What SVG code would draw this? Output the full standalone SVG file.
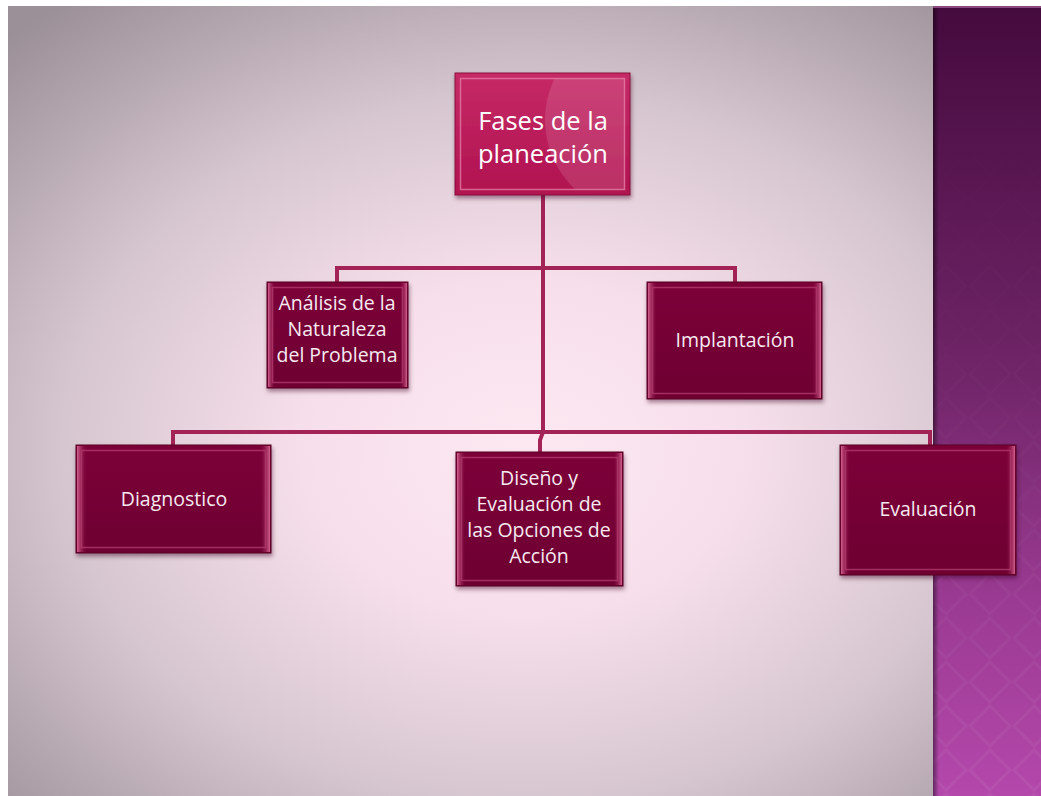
<svg xmlns="http://www.w3.org/2000/svg" width="1041" height="796" viewBox="0 0 1041 796">
<defs>
<radialGradient id="bg" cx="0.5" cy="0.56" r="0.72">
<stop offset="0" stop-color="#fde8f2"/>
<stop offset="0.3" stop-color="#f6dfea"/>
<stop offset="0.62" stop-color="#d6c6cf"/>
<stop offset="1" stop-color="#9b8f98"/>
</radialGradient>
<linearGradient id="band" x1="0" y1="0" x2="0" y2="1">
<stop offset="0" stop-color="#450a3e"/>
<stop offset="0.45" stop-color="#6e2466"/>
<stop offset="0.75" stop-color="#9a3a92"/>
<stop offset="1" stop-color="#b448ab"/>
</linearGradient>
<linearGradient id="bandEdge" x1="0" y1="0" x2="1" y2="0">
<stop offset="0" stop-color="#000" stop-opacity="0.45"/>
<stop offset="1" stop-color="#000" stop-opacity="0"/>
</linearGradient>
<linearGradient id="patFade" x1="0" y1="0" x2="0" y2="1">
<stop offset="0" stop-color="#fff" stop-opacity="0"/>
<stop offset="0.5" stop-color="#fff" stop-opacity="0.3"/>
<stop offset="1" stop-color="#fff" stop-opacity="1"/>
</linearGradient>
<mask id="patMask"><rect x="933" y="6" width="108" height="790" fill="url(#patFade)"/></mask>
<pattern id="diam" width="44" height="44" patternUnits="userSpaceOnUse">
<path d="M22 2 L42 22 L22 42 L2 22 Z" fill="none" stroke="#ffffff" stroke-opacity="0.05" stroke-width="3"/>
</pattern>
<linearGradient id="boxFill" x1="0" y1="0" x2="0" y2="1">
<stop offset="0" stop-color="#7c0538"/>
<stop offset="1" stop-color="#6e0032"/>
</linearGradient>
<linearGradient id="bevelH" x1="0" y1="0" x2="1" y2="0">
<stop offset="0" stop-color="#d2608e"/>
<stop offset="0.05" stop-color="#8a1546" stop-opacity="0"/>
<stop offset="0.95" stop-color="#8a1546" stop-opacity="0"/>
<stop offset="1" stop-color="#d2608e"/>
</linearGradient>
<linearGradient id="topFill" x1="0" y1="0" x2="0" y2="1">
<stop offset="0" stop-color="#c62a66"/>
<stop offset="1" stop-color="#b0124f"/>
</linearGradient>
<clipPath id="topClip"><rect x="460" y="78" width="165" height="112"/></clipPath>
<filter id="sh" x="-10%" y="-10%" width="125%" height="130%">
<feDropShadow dx="1" dy="3" stdDeviation="2" flood-color="#3a1028" flood-opacity="0.45"/>
</filter>
</defs>
<style>
.box{fill:url(#boxFill);stroke:#5a0026;stroke-width:1;filter:url(#sh)}
.bev{fill:none;stroke:#b03a6c;stroke-width:1.5;stroke-opacity:0.8}
.bevh{fill:url(#bevelH)}
.lbl{font-family:"Open Sans","DejaVu Sans",sans-serif;font-size:19.5px;fill:#f6eaf0;text-anchor:middle}
.ttl{font-family:"Open Sans","DejaVu Sans",sans-serif;font-size:25.5px;fill:#ffffff;text-anchor:middle}
.con{fill:none;stroke:#a32356;stroke-width:4;stroke-linejoin:miter}
</style>
<rect x="0" y="0" width="1041" height="796" fill="#ffffff"/>
<rect x="8" y="6" width="1033" height="790" fill="url(#bg)"/>
<rect x="933" y="6" width="108" height="790" fill="url(#band)"/>
<rect x="933" y="6" width="108" height="790" fill="url(#diam)" mask="url(#patMask)"/>
<rect x="933" y="6" width="6" height="790" fill="url(#bandEdge)"/>
<rect x="933" y="6" width="108" height="2" fill="#8a4a80"/>
<g id="connectors">
<path class="con" d="M543 195 V432"/>
<path class="con" d="M337 282 V268 H735 V282"/>
<path class="con" d="M173 445 V432 H930 V446"/>
<path class="con" d="M543 432 L540 440 V452"/>
</g>
<g id="node-fases">
<rect x="455" y="73" width="175" height="122" fill="url(#topFill)" stroke="#8a0e3e" stroke-width="1" filter="url(#sh)"/>
<g clip-path="url(#topClip)">
<circle cx="640" cy="120" r="95" fill="#ffffff" fill-opacity="0.12"/>
</g>
<rect x="460.5" y="78.5" width="164" height="111" fill="none" stroke="#e27aa4" stroke-width="1.5" stroke-opacity="0.8"/>
<text class="ttl" x="543" y="130">Fases de la</text>
<text class="ttl" x="543" y="163">planeación</text>
</g>
<g id="node-analisis">
<rect class="box" x="267" y="282" width="141" height="106"/>
<rect class="bevh" x="268" y="283" width="139" height="104"/>
<rect class="bev" x="272.5" y="287.5" width="130" height="95"/>
<text class="lbl" x="337" y="310">Análisis de la</text>
<text class="lbl" x="337" y="336">Naturaleza</text>
<text class="lbl" x="337" y="362">del Problema</text>
</g>
<g id="node-implantacion">
<rect class="box" x="647" y="282" width="175" height="117"/>
<rect class="bevh" x="648" y="283" width="173" height="115"/>
<rect class="bev" x="652.5" y="287.5" width="164" height="106"/>
<text class="lbl" x="735" y="347">Implantación</text>
</g>
<g id="node-diagnostico">
<rect class="box" x="76" y="445" width="195" height="108"/>
<rect class="bevh" x="77" y="446" width="193" height="106"/>
<rect class="bev" x="81.5" y="450.5" width="184" height="97"/>
<text class="lbl" x="174" y="506">Diagnostico</text>
</g>
<g id="node-diseno">
<rect class="box" x="456" y="452" width="167" height="134"/>
<rect class="bevh" x="457" y="453" width="165" height="132"/>
<rect class="bev" x="461.5" y="457.5" width="156" height="123"/>
<text class="lbl" x="539" y="485">Diseño y</text>
<text class="lbl" x="539" y="511">Evaluación de</text>
<text class="lbl" x="539" y="537">las Opciones de</text>
<text class="lbl" x="539" y="563">Acción</text>
</g>
<g id="node-evaluacion">
<rect class="box" x="840" y="445" width="176" height="130"/>
<rect class="bevh" x="841" y="446" width="174" height="128"/>
<rect class="bev" x="845.5" y="450.5" width="165" height="119"/>
<text class="lbl" x="928" y="516">Evaluación</text>
</g>
</svg>
